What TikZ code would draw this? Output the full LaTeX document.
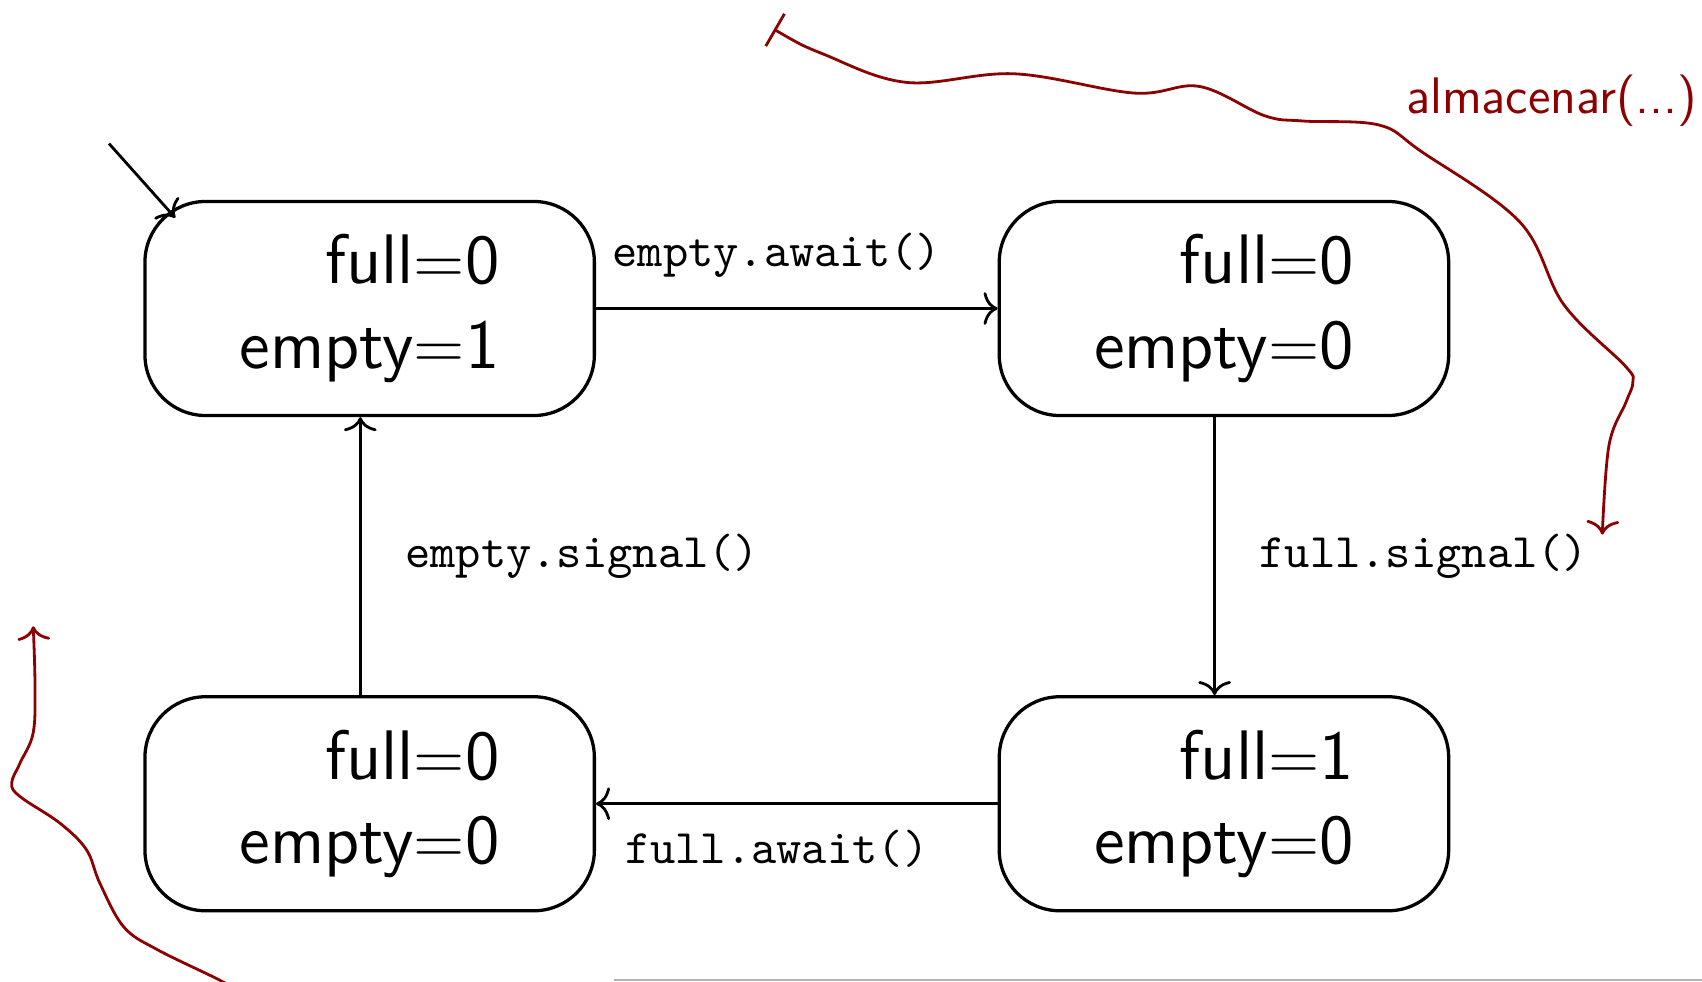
\documentclass[tikz,border=0pt]{standalone}
\usepackage{amsmath}
\usepackage{tikz}
\usetikzlibrary{arrows}
\usetikzlibrary{arrows.meta}
\usetikzlibrary{positioning}
\definecolor{darkred}{RGB}{139,0,0}

\begin{document}
\begin{tikzpicture}[
    >={To[width=7pt,length=3pt]},
    semithick,
    estado/.style={draw, line width=0.7pt, rounded corners=13pt, minimum width=3.38cm,
      minimum height=1.61cm, align=right, font=\fontsize{15}{18}\selectfont\sffamily},
    op/.style={font=\fontsize{10.3}{12}\selectfont\ttfamily},
    nota/.style={darkred, semithick}
  ]
    \useasboundingbox (0,0) rectangle (12.8,-7.378);
    \node[estado] (s1) at (2.78,-2.32) {full$=$0\\empty$=$1};
    \node[estado, right=3.02cm of s1] (s2) {full$=$0\\empty$=$0};
    \node[estado, below=2.09cm of s2] (s4) {full$=$1\\empty$=$0};
    \node[estado, below=2.09cm of s1] (s3) {full$=$0\\empty$=$0};

    \coordinate (ini) at (0.82,-1.08);
    \draw[->] (ini) -- ([shift={(0.24,-0.135)}]s1.north west);
    \draw[->] (s1) -- node[op, pos=0.45, above=3pt] {empty.await()} (s2);
    \draw[->] ([xshift=-2pt]s2.south) -- node[op, right=6pt] {full.signal()} ([xshift=-2pt]s4.north);
    \draw[->] (s4) -- node[op, pos=0.55, below=2pt] {full.await()} (s3);
    \draw[->] ([xshift=-2pt]s3.north) -- node[op, right=6pt] {empty.signal()} ([xshift=-2pt]s1.south);

    % anotaciones
    \node[darkred, font=\fontsize{11}{13}\selectfont\sffamily] (alm) at (11.67,-0.76) {almacenar(...)};
    \draw[nota, {Bar[width=8pt]}->] plot[smooth, tension=0.6] coordinates {
      (5.82,-0.22) (6.20,-0.41) (6.82,-0.62) (7.63,-0.555) (8.53,-0.70) (9.02,-0.65)
      (9.51,-0.87) (9.80,-0.91) (10.37,-0.94) (10.69,-1.14) (11.43,-1.67) (11.76,-2.29)
      (12.22,-2.75) (12.28,-2.87) (12.23,-3.02) (12.10,-3.35) (12.05,-4.02)};
    \draw[nota, ->] plot[smooth, tension=0.6] coordinates {
      (1.77,-7.45) (1.65,-7.37) (1.18,-7.14) (0.93,-6.97) (0.75,-6.64) (0.65,-6.39)
      (0.45,-6.19) (0.15,-5.99) (0.088,-5.89) (0.15,-5.74) (0.25,-5.51) (0.263,-5.14)
      (0.25,-4.71)};

    \draw[gray!60, thin] (4.62,-7.37) -- (12.8,-7.37);
\end{tikzpicture}
\end{document}
